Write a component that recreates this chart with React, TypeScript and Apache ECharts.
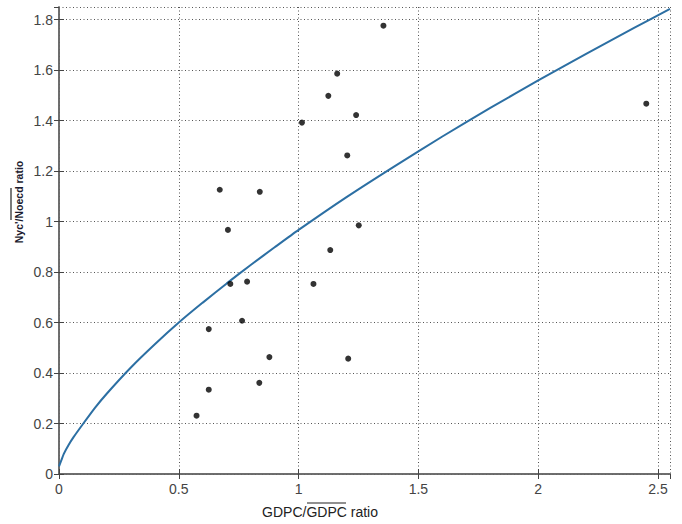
import React, { useEffect, useRef } from "react";
import * as echarts from "echarts";

const scatterX = [0.574, 0.625, 0.625, 0.671, 0.705, 0.715, 0.764, 0.785, 0.836, 0.838, 0.878, 1.014, 1.062, 1.124, 1.132, 1.161, 1.203, 1.207, 1.24, 1.251, 1.354, 2.451];
const scatterY = [0.231, 0.334, 0.574, 1.126, 0.967, 0.753, 0.607, 0.762, 0.361, 1.118, 0.463, 1.392, 0.753, 1.498, 0.887, 1.586, 1.262, 0.457, 1.422, 0.985, 1.776, 1.467];

const curveX = [0, 0.01, 0.02, 0.04, 0.06, 0.1, 0.15, 0.2, 0.3, 0.4, 0.5, 0.6, 0.7, 0.8, 0.9, 1.0, 1.2, 1.4, 1.6, 1.8, 2.0, 2.2, 2.4, 2.55];
const curveY = [0.03, 0.055, 0.08, 0.115, 0.145, 0.198, 0.262, 0.319, 0.422, 0.514, 0.6, 0.679, 0.755, 0.828, 0.898, 0.967, 1.097, 1.219, 1.337, 1.45, 1.559, 1.664, 1.767, 1.843];

const xTitle = "GDPC/GDPC ratio";
const yTitle = "Nyc'/Noecd ratio";

export default function App() {
  const ref = useRef<HTMLDivElement>(null);
  useEffect(() => {
    if (!ref.current) return;
    const chart = echarts.init(ref.current, null, { renderer: "svg" });
    const axisLine = { show: true, lineStyle: { color: "#666", width: 1.5 } };
    const axisTick = { show: true, inside: true, length: 5, lineStyle: { color: "#444", width: 1 } };
    const labelStyle = { fontSize: 14, color: "#444", fontFamily: "Liberation Sans" };
    const splitLine = { show: true, lineStyle: { color: "#555", width: 1, type: [1, 2.5] as any } };
    chart.setOption({
      animation: false,
      backgroundColor: "#fff",
      grid: { left: 59, right: 12, top: 7, bottom: 50 },
      xAxis: [
        {
          type: "value", min: 0, max: 2.55, interval: 0.5, position: "bottom",
          axisLine, axisTick, splitLine,
          axisLabel: { ...labelStyle, margin: 8, showMaxLabel: false },
        },
        {
          type: "value", min: 0, max: 2.55, interval: 0.5, position: "top",
          axisLine, axisTick, splitLine: { show: false }, axisLabel: { show: false },
        },
      ],
      yAxis: [
        {
          type: "value", min: 0, max: 1.85, interval: 0.2, position: "left",
          axisLine, axisTick, splitLine,
          axisLabel: { ...labelStyle, margin: 6, showMaxLabel: false },
        },
        {
          type: "value", min: 0, max: 1.85, interval: 0.2, position: "right",
          axisLine, axisTick, splitLine: { show: false }, axisLabel: { show: false },
        },
      ],
      series: [
        {
          type: "line",
          data: curveX.map((x, i) => [x, curveY[i]]),
          showSymbol: false,
          smooth: 0.2,
          lineStyle: { color: "#2c6fa3", width: 2 },
          z: 3,
        },
        {
          type: "scatter",
          data: scatterX.map((x, i) => [x, scatterY[i]]),
          symbolSize: 6,
          itemStyle: { color: "#000" },
          z: 4,
        },
      ],
      graphic: [
        {
          type: "text",
          x: 320,
          y: 512,
          style: {
            text: xTitle,
            fontSize: 14,
            fontFamily: "Liberation Sans",
            fill: "#222",
            align: "center",
            verticalAlign: "middle",
          },
        },
        {
          type: "line",
          shape: { x1: 307, y1: 503, x2: 346, y2: 503 },
          style: { stroke: "#222", lineWidth: 1.2 },
        },
        {
          type: "text",
          x: 19,
          y: 202,
          rotation: Math.PI / 2,
          style: {
            text: yTitle,
            fontSize: 10.5,
            fontWeight: "bold",
            fontFamily: "Liberation Sans",
            fill: "#1a1a2e",
            align: "center",
            verticalAlign: "middle",
          },
        },
        {
          type: "line",
          shape: { x1: 11, y1: 188, x2: 11, y2: 220 },
          style: { stroke: "#222", lineWidth: 1.2 },
        },
      ],
    });
    return () => chart.dispose();
  }, []);
  return (
    <div
      ref={ref}
      style={{ position: "fixed", left: 0, top: 0, width: 682, height: 524, background: "#fff" }}
    />
  );
}
